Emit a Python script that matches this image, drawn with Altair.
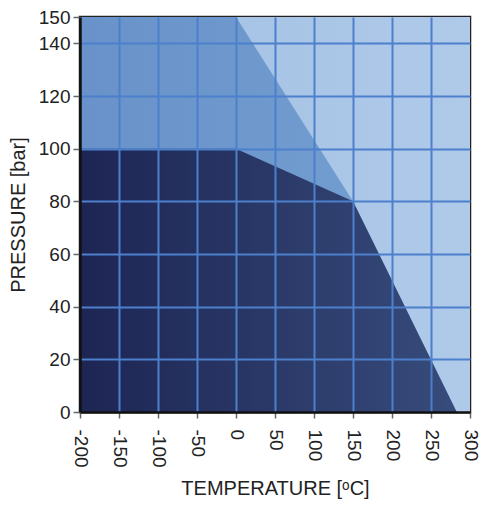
import altair as alt
import pandas as pd

# Region boundaries (temperature in °C, pressure in bar)
bound_temp = [-200, 0, 150, 283]
dark_top_pressure = [100, 100, 80, 0]
medium_top_pressure = [150, 150, 80, 0]
bg_temp = [-200, 300]
bg_pressure = [150, 150]

x_ticks = [-200, -150, -100, -50, 0, 50, 100, 150, 200, 250, 300]
y_ticks = [0, 20, 40, 60, 80, 100, 120, 140, 150]

dark_df = pd.DataFrame({"t": bound_temp, "p": dark_top_pressure})
med_df = pd.DataFrame({"t": bound_temp, "p": medium_top_pressure})
bg_df = pd.DataFrame({"t": bg_temp, "p": bg_pressure})

FONT = "Liberation Sans"

xscale = alt.Scale(domain=[-200, 300], nice=False, zero=False)
yscale = alt.Scale(domain=[0, 150], nice=False)

xaxis = alt.Axis(
    values=x_ticks, labelAngle=90, labelFontSize=19, labelFont=FONT,
    labelColor="#222", labelPadding=11, labelExpr="'' + datum.value",
    tickSize=6, tickColor="#666", tickWidth=1.5,
    domainColor="#111", domainWidth=2.5,
    grid=True, gridColor="#4d80cc", gridWidth=2,
    gridOpacity={"condition": {"test": "datum.value == -200 || datum.value == 300", "value": 0}, "value": 1},
    title="TEMPERATURE [ᵒC]", titleFontSize=20, titleFont=FONT,
    titleFontWeight="normal", titleColor="#222", titlePadding=11,
    zindex=1,
)
yaxis = alt.Axis(
    values=y_ticks, labelFontSize=19, labelFont=FONT, labelColor="#222",
    labelPadding=3, labelExpr="'' + datum.value",
    tickSize=7, tickColor="#666", tickWidth=1.5,
    domainColor="#111", domainWidth=2.5,
    grid=True, gridColor="#4d80cc", gridWidth=2,
    gridOpacity={"condition": {"test": "datum.value == 0 || datum.value == 150", "value": 0}, "value": 1},
    title="PRESSURE [bar]", titleFontSize=20, titleFont=FONT,
    titleFontWeight="normal", titleColor="#222", titlePadding=10,
    zindex=1,
)

def grad(c0, c1):
    return alt.LinearGradient(
        gradient="linear",
        stops=[alt.GradientStop(color=c0, offset=0), alt.GradientStop(color=c1, offset=1)],
        x1=0, x2=1, y1=0, y2=0,
    )

bg = alt.Chart(bg_df).mark_area(color=grad("#a2bfe3", "#afcae9"), line=False).encode(
    x=alt.X("t:Q", scale=xscale, axis=xaxis),
    y=alt.Y("p:Q", scale=yscale, axis=yaxis),
)
med = alt.Chart(med_df).mark_area(color=grad("#6892c9", "#76a1d2")).encode(
    x=alt.X("t:Q", scale=xscale, axis=xaxis),
    y=alt.Y("p:Q", scale=yscale, axis=yaxis),
)
dark = alt.Chart(dark_df).mark_area(color=grad("#1d2553", "#374c7c")).encode(
    x=alt.X("t:Q", scale=xscale, axis=xaxis),
    y=alt.Y("p:Q", scale=yscale, axis=yaxis),
)

chart = alt.layer(bg, med, dark).properties(
    width=390, height=395,
    autosize=alt.AutoSizeParams(type="none"),
    padding={"left": 72, "top": 9, "right": 10, "bottom": 90},
).configure_view(stroke="#222", strokeWidth=2.5)

chart.save("out.html", embed_options={"renderer": "svg", "actions": False})
